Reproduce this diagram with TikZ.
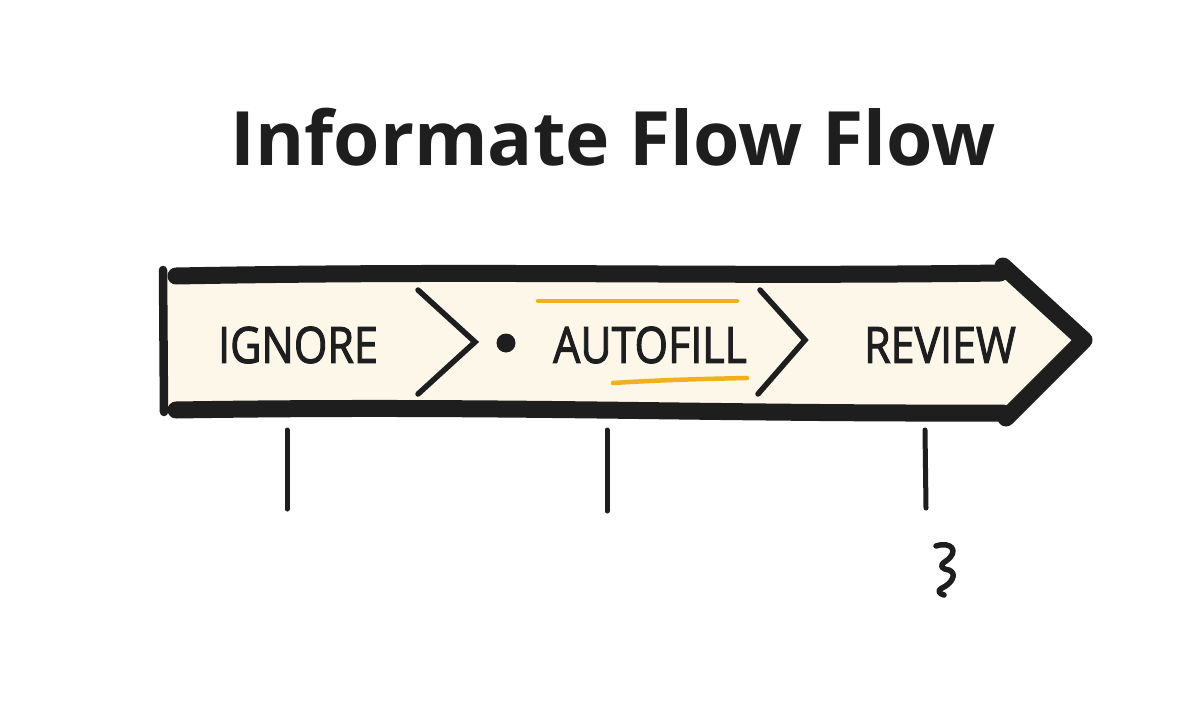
\documentclass[tikz,border=0pt]{standalone}
\usepackage{fontspec}
\setmainfont{Open Sans}
\newfontfamily\lblfont{Open Sans}[FakeBold=2.2]
\definecolor{ink}{HTML}{1E1E1E}
\definecolor{cream}{HTML}{FDF7EA}
\definecolor{amber}{HTML}{F0B020}
\begin{document}
\begin{tikzpicture}[x=1pt,y=-1pt,
  band/.style={draw=ink,line width=17pt,line cap=round,line join=round},
  chev/.style={draw=ink,line width=5.5pt,line cap=round,line join=miter},
  tick/.style={draw=ink,line width=5pt,line cap=round},
  hl/.style={draw=amber,line width=4.5pt,line cap=round},
  lbl/.style={text=ink,font=\lblfont\fontsize{50}{50}\selectfont,xscale=0.86,inner sep=0pt}]
\useasboundingbox (0,0) rectangle (1200,720);
\fill[white] (0,0) rectangle (1200,720);
% title
\node[text=ink,font=\bfseries\fontsize{75}{75}\selectfont,inner sep=0pt,anchor=base] (title) at (613,165) {Informate Flow Flow};
% band fill
\coordinate (tl) at (176,276);
\coordinate (tr) at (1000,273);
\coordinate (tip) at (1084,340);
\coordinate (br) at (1003,413);
\coordinate (bl) at (176,410);
\fill[cream] (166,272) -- (tr) -- (tip) -- (br) -- (166,410) -- cycle;
\draw[band] (tl) .. controls (500,270) and (700,277) .. (tr);
\draw[band] (1003,266) -- (tip) -- (1006,418);
\draw[band] (bl) .. controls (500,405) and (700,414) .. (br);
\draw[draw=ink,line width=8.5pt,line cap=round] (163,270) -- (164,412);
% chevrons
\draw[chev] (418,290) -- (475,342) -- (418,394);
\draw[chev] (760,290) -- (805,340) -- (758,394);
\fill[ink] (506,343) circle (9.5);
% labels
\node[lbl] (ignore) at (298,345) {IGNORE};
\node[lbl] (autofill) at (650,345) {AUTOFILL};
\node[lbl] (review) at (940,345) {REVIEW};
% highlights
\draw[hl] (538,301) -- (737,301);
\draw[hl] (613,383) .. controls (660,380) and (700,379) .. (747,378);
% ticks
\draw[tick] (287,430) -- (287,509);
\draw[tick] (607,430) -- (607,511);
\draw[tick] (925,430) -- (926,508);
% squiggle
\draw[ink,line width=5.5pt,line cap=round,line join=round] (936,546) .. controls (951,541) and (960,551) .. (946,561) .. controls (938,566) and (942,569) .. (949,570) .. controls (958,574) and (951,584) .. (942,588) .. controls (937,590) and (939,594) .. (944,595);
\end{tikzpicture}
\end{document}
